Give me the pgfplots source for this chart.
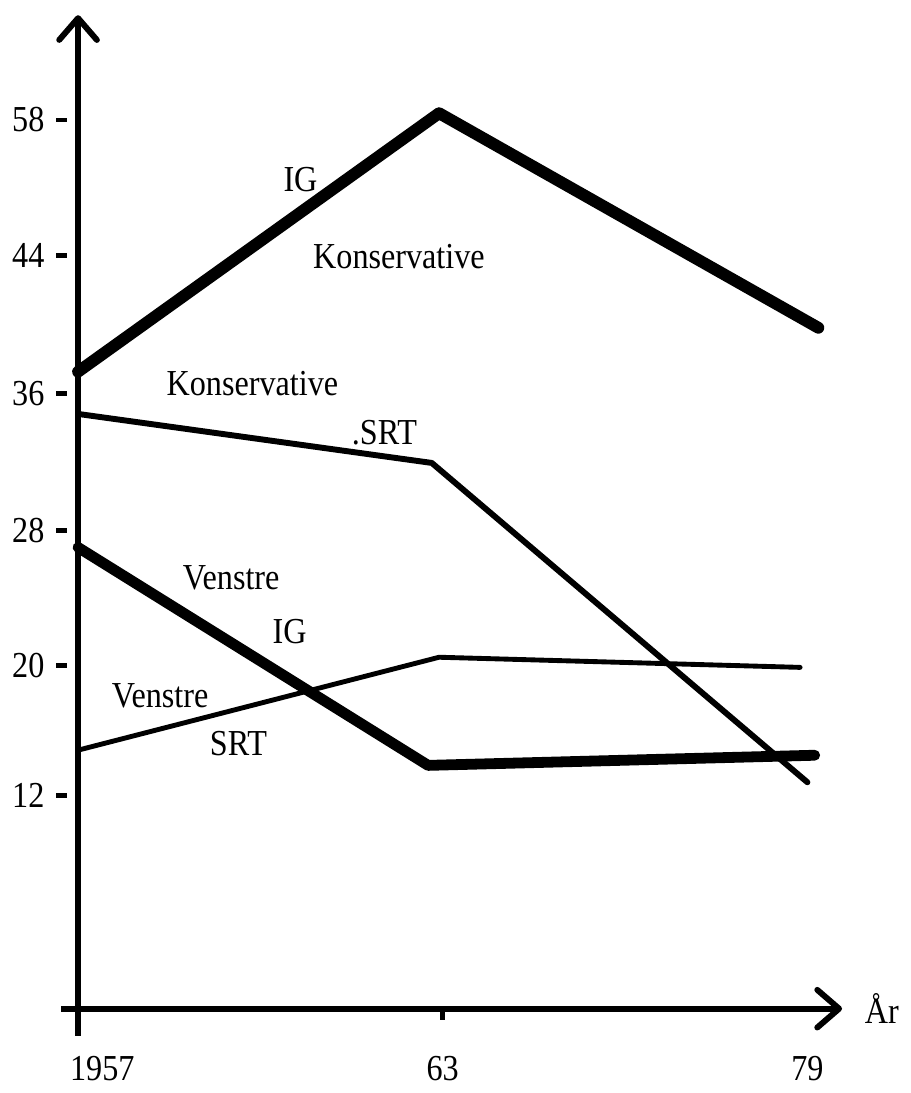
\documentclass[border=0pt]{standalone}
\usepackage{fontspec}
\setmainfont{Liberation Serif}[FakeStretch=0.88]
\usepackage{pgfplots}
\pgfplotsset{compat=1.18}
\usetikzlibrary{arrows.meta}

\begin{document}
\fontsize{10.5}{12}\selectfont
\begin{tikzpicture}
\begin{axis}[
    scale only axis,
    width=78.8mm,
    height=103mm,
    xmin=-0.046, xmax=2.095,
    ymin=-1.6, ymax=58.8,
    axis lines=middle,
    axis line style={line width=1.7pt},
    x axis line style={-{Straight Barb[length=2.2mm,width=3.8mm,round]}},
    y axis line style={-{Straight Barb[length=2.2mm,width=3.8mm,round]}},
    hide obscured x ticks=false,
    hide obscured y ticks=false,
    xtick={0,1},
    xticklabels={\makebox[0pt][l]{\hspace{-0.8mm}1957},63},
    extra x ticks={2},
    extra x tick labels={79},
    extra x tick style={major tick length=0pt, xticklabel style={yshift=-1.1mm}},
    % hand-drawn scale: ticks evenly spaced, top one reads 58
    ytick={12.6,20.3,28.3,36.4,44.6,52.6},
    yticklabels={12,20,28,36,44,58},
    tick align=outside,
    major tick length=1.1mm,
    tick style={black, line width=1.4pt},
    ytick style={xshift=-1.1mm},
    xticklabel style={anchor=north, yshift=-2.4mm},
    yticklabel style={anchor=east, xshift=-1mm},
    clip=false,
    every axis plot/.append style={black, no marks, line join=round, line cap=round},
]

% IG, Konservative
\addplot[line width=3.4pt] coordinates {(0,37.7) (0.99,53.0) (2.03,40.3)};
% SRT, Konservative
\addplot[line width=1.7pt] coordinates {(0,35.2) (0.97,32.3) (2.00,13.4)};
% IG, Venstre
\addplot[line width=3.1pt] coordinates {(0,27.3) (0.96,14.4) (2.02,15.0)};
% SRT, Venstre
\addplot[line width=1.4pt] coordinates {(0,15.3) (0.99,20.8) (1.98,20.2)};

\node at (axis cs:0.61,49.1) {IG};
\node at (axis cs:0.88,44.5) {Konservative};
\node at (axis cs:0.478,37.0) {Konservative};
\node at (axis cs:0.84,34.1) {.SRT};
\node at (axis cs:0.42,25.5) {Venstre};
\node at (axis cs:0.58,22.3) {IG};
\node at (axis cs:0.225,18.5) {Venstre};
\node at (axis cs:0.44,15.7) {SRT};
\node[anchor=west, xshift=1mm] at (axis cs:2.095,0) {År};
% blank margin above the arrow tip, as in the scan
\path (axis cs:0,59.7);

\end{axis}
\end{tikzpicture}
\end{document}
